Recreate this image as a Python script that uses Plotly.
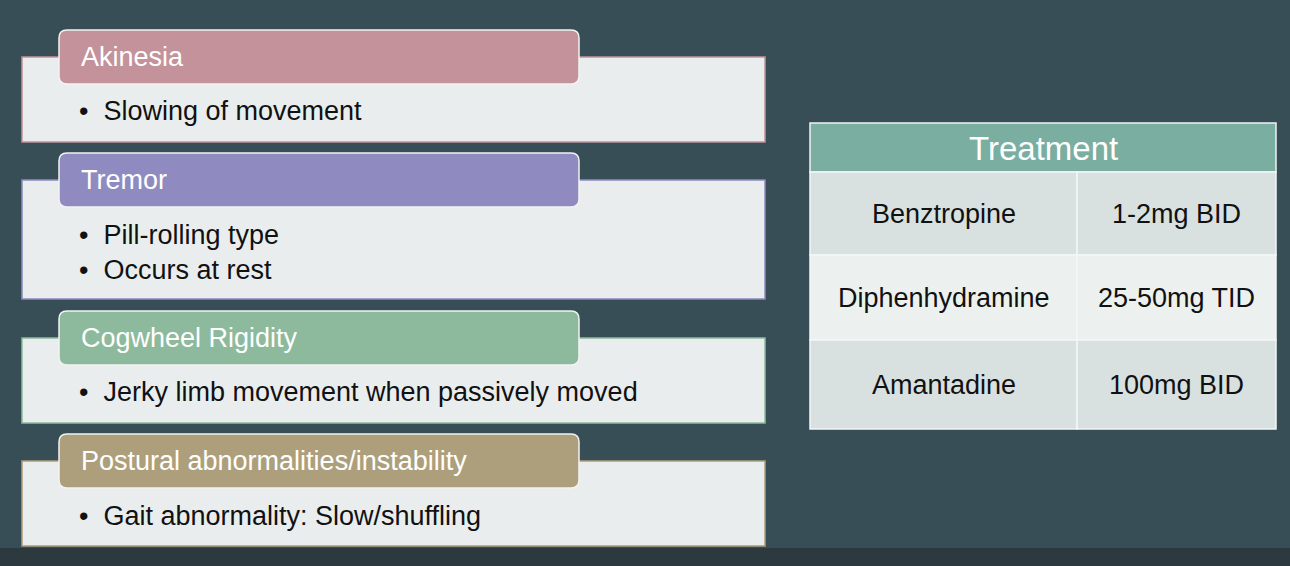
import plotly.graph_objects as go

headers = ["Akinesia", "Tremor", "Cogwheel Rigidity", "Postural abnormalities/instability"]
bullets = [["Slowing of movement"], ["Pill-rolling type", "Occurs at rest"],
           ["Jerky limb movement when passively moved"], ["Gait abnormality: Slow/shuffling"]]
header_colors = ["#c4929a", "#8f8bc0", "#8dba9d", "#ae9f7c"]
table_title = "Treatment"
drugs = ["Benztropine", "Diphenhydramine", "Amantadine"]
doses = ["1-2mg BID", "25-50mg TID", "100mg BID"]

# layout geometry (pixels)
body_tops = [57, 180, 338, 461]
body_bots = [142, 299, 423, 546]
head_tops = [30, 153, 311, 434]
bullet_ys = [[111], [235, 270], [392], [516]]

W, H = 1290, 566
fig = go.Figure()
shapes = []
ann = []
FONT = "Liberation Sans"

def rrect(x0, y0, x1, y1, r):
    return (f"M{x0+r},{y0} L{x1-r},{y0} Q{x1},{y0} {x1},{y0+r} L{x1},{y1-r} Q{x1},{y1} {x1-r},{y1} "
            f"L{x0+r},{y1} Q{x0},{y1} {x0},{y1-r} L{x0},{y0+r} Q{x0},{y0} {x0+r},{y0} Z")

shapes.append(dict(type="rect", x0=0, x1=W, y0=548, y1=H, fillcolor="#2c3a40", line_width=0, layer="below"))

for i, h in enumerate(headers):
    shapes.append(dict(type="rect", x0=22, x1=765, y0=body_tops[i], y1=body_bots[i],
                       fillcolor="#e9edee", line=dict(color=header_colors[i], width=1.5)))
    shapes.append(dict(type="path", path=rrect(59, head_tops[i], 579, head_tops[i] + 54, 8),
                       fillcolor=header_colors[i], line=dict(color="#f2f2f2", width=1.5)))
    ann.append(dict(x=79, y=head_tops[i] + 27, text=h, showarrow=False, xanchor="left",
                    font=dict(color="white", size=27, family=FONT)))
    for b, y in zip(bullets[i], bullet_ys[i]):
        ann.append(dict(x=77, y=y, text="•  " + b, showarrow=False, xanchor="left",
                        font=dict(color="#111111", size=27, family=FONT)))

# table
tx0, tx1, tsplit = 810, 1276, 1077
shapes.append(dict(type="rect", x0=tx0, x1=tx1, y0=123, y1=172, fillcolor="#7aaea1",
                   line=dict(color="#f2f2f2", width=1.5)))
ann.append(dict(x=(tx0 + tx1) / 2, y=148, text=table_title, showarrow=False,
                font=dict(color="white", size=33, family=FONT)))
row_edges = [172, 255, 340, 429]
row_fill = ["#d8e1e0", "#ecf1ef", "#d8e1e0"]
for r in range(3):
    for (a, b) in [(tx0, tsplit), (tsplit, tx1)]:
        shapes.append(dict(type="rect", x0=a, x1=b, y0=row_edges[r], y1=row_edges[r + 1],
                           fillcolor=row_fill[r], line=dict(color="#f4f6f6", width=1.5)))
    yc = (row_edges[r] + row_edges[r + 1]) / 2
    ann.append(dict(x=(tx0 + tsplit) / 2, y=yc, text=drugs[r], showarrow=False,
                    font=dict(color="#111111", size=27, family=FONT)))
    ann.append(dict(x=(tsplit + tx1) / 2, y=yc, text=doses[r], showarrow=False,
                    font=dict(color="#111111", size=27, family=FONT)))

fig.update_layout(width=W, height=H, margin=dict(l=0, r=0, t=0, b=0),
                  paper_bgcolor="#384e57", plot_bgcolor="#384e57",
                  xaxis=dict(range=[0, W], visible=False, fixedrange=True),
                  yaxis=dict(range=[H, 0], visible=False, fixedrange=True),
                  shapes=shapes, annotations=ann, showlegend=False)
fig.write_html("out.html", config={"displayModeBar": False},
               post_script="document.body.style.margin='0';document.body.style.overflow='hidden';")
